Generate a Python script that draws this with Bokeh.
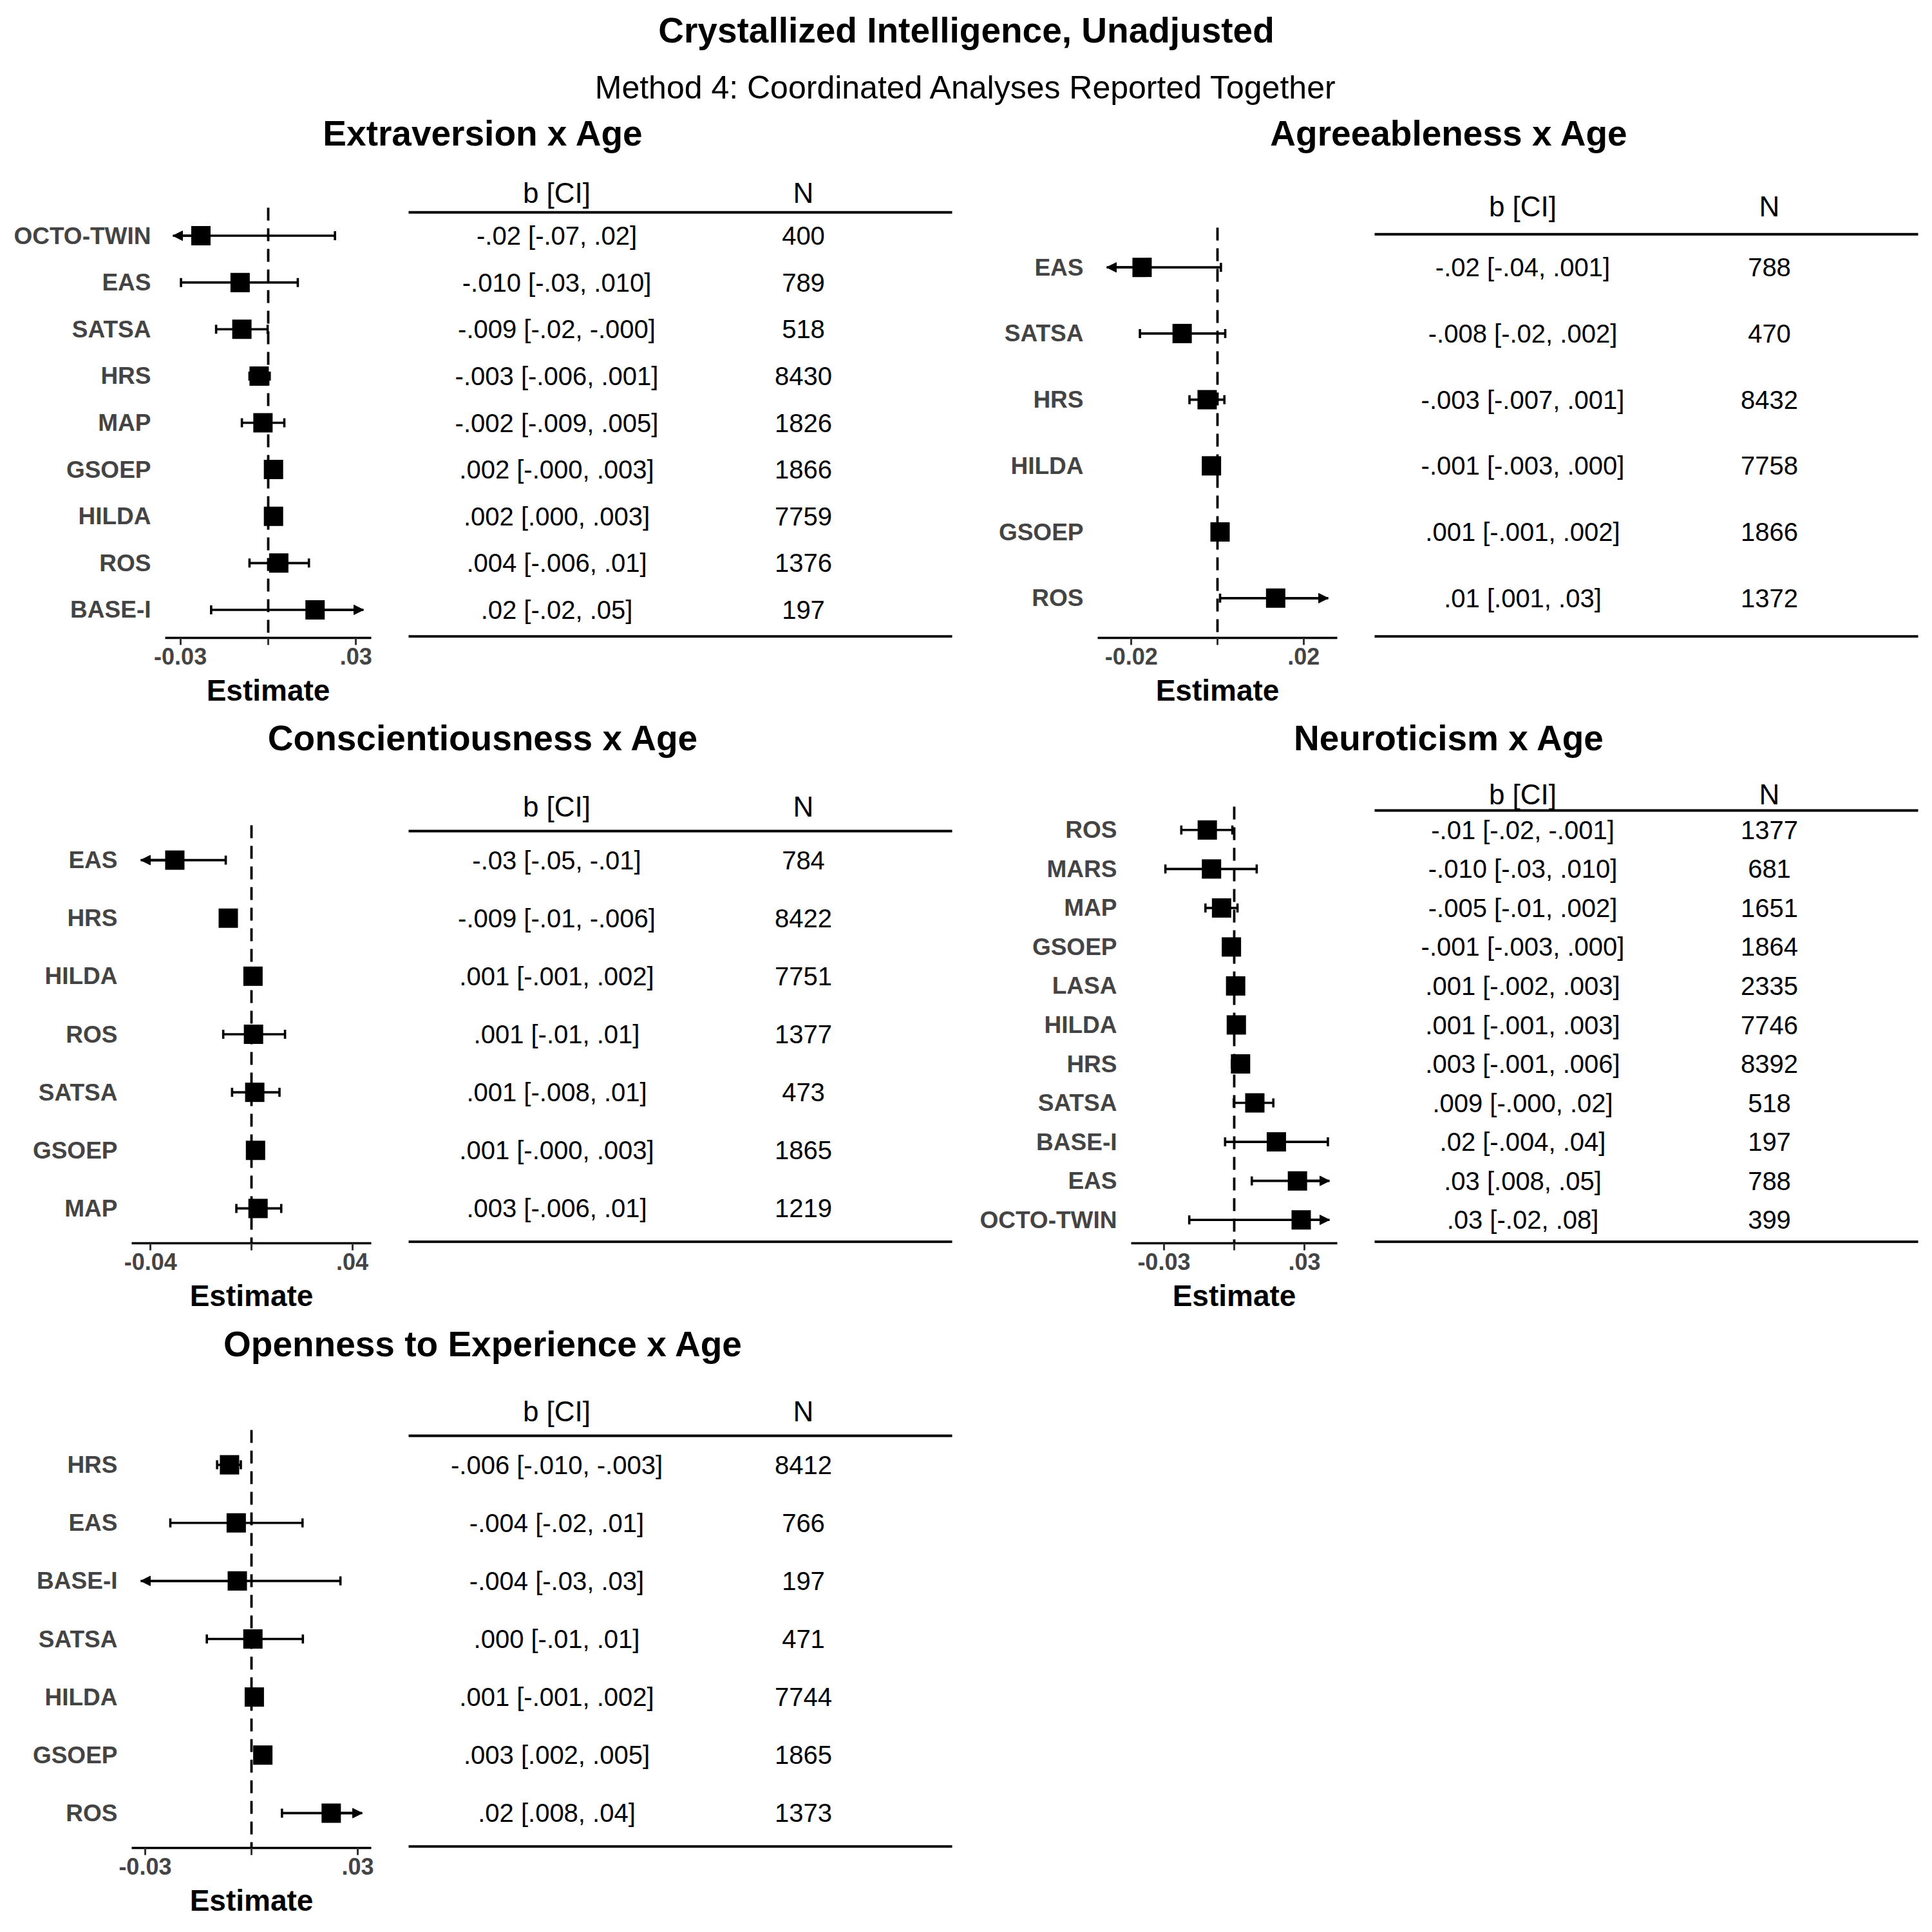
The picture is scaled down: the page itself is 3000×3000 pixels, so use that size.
import numpy as np
from bokeh.plotting import figure
from bokeh.models import Range1d, FixedTicker, Arrow, NormalHead, ColumnDataSource
from bokeh.layouts import column, row
from bokeh.embed import file_html
from bokeh.resources import INLINE
from bokeh.core.properties import value

# ------------------------------------------------------------------ data
MAIN_TITLE = "Crystallized Intelligence, Unadjusted"
SUBTITLE = "Method 4: Coordinated Analyses Reported Together"
TABLE_HEADERS = ["b [CI]", "N"]
AXIS_TITLE = "Estimate"

EXT_TITLE = "Extraversion x Age"
EXT_STUDY = ["OCTO-TWIN", "EAS", "SATSA", "HRS", "MAP", "GSOEP", "HILDA", "ROS", "BASE-I"]
EXT_EST = [-0.023, -0.0096, -0.0090, -0.0031, -0.0018, 0.0018, 0.0018, 0.0036, 0.016]
EXT_LO = [-0.07, -0.0298, -0.0178, -0.0064, -0.0090, -0.0003, 0.0002, -0.0064, -0.0195]
EXT_HI = [0.0228, 0.0101, -0.0002, 0.0005, 0.0055, 0.0033, 0.0033, 0.0139, 0.05]
EXT_BCI = ["-.02 [-.07, .02]", "-.010 [-.03, .010]", "-.009 [-.02, -.000]", "-.003 [-.006, .001]",
           "-.002 [-.009, .005]", ".002 [-.000, .003]", ".002 [.000, .003]", ".004 [-.006, .01]",
           ".02 [-.02, .05]"]
EXT_N = ["400", "789", "518", "8430", "1826", "1866", "7759", "1376", "197"]
EXT_TICKS = [-0.03, 0.0, 0.03]
EXT_TICK_LABELS = ["-0.03", "", ".03"]

AGR_TITLE = "Agreeableness x Age"
AGR_STUDY = ["EAS", "SATSA", "HRS", "HILDA", "GSOEP", "ROS"]
AGR_EST = [-0.0175, -0.0082, -0.0024, -0.0014, 0.0006, 0.0135]
AGR_LO = [-0.04, -0.018, -0.0065, -0.003, -0.001, 0.0006]
AGR_HI = [0.0008, 0.0018, 0.0016, 0.0003, 0.002, 0.03]
AGR_BCI = ["-.02 [-.04, .001]", "-.008 [-.02, .002]", "-.003 [-.007, .001]", "-.001 [-.003, .000]",
           ".001 [-.001, .002]", ".01 [.001, .03]"]
AGR_N = ["788", "470", "8432", "7758", "1866", "1372"]
AGR_TICKS = [-0.02, 0.0, 0.02]
AGR_TICK_LABELS = ["-0.02", "", ".02"]

CON_TITLE = "Conscientiousness x Age"
CON_STUDY = ["EAS", "HRS", "HILDA", "ROS", "SATSA", "GSOEP", "MAP"]
CON_EST = [-0.0304, -0.0092, 0.0006, 0.0008, 0.0013, 0.0016, 0.0026]
CON_LO = [-0.05, -0.0123, -0.0008, -0.0112, -0.0077, -0.0003, -0.006]
CON_HI = [-0.0102, -0.0060, 0.0020, 0.0133, 0.0111, 0.0033, 0.0118]
CON_BCI = ["-.03 [-.05, -.01]", "-.009 [-.01, -.006]", ".001 [-.001, .002]", ".001 [-.01, .01]",
           ".001 [-.008, .01]", ".001 [-.000, .003]", ".003 [-.006, .01]"]
CON_N = ["784", "8422", "7751", "1377", "473", "1865", "1219"]
CON_TICKS = [-0.04, 0.0, 0.04]
CON_TICK_LABELS = ["-0.04", "", ".04"]

NEU_TITLE = "Neuroticism x Age"
NEU_STUDY = ["ROS", "MARS", "MAP", "GSOEP", "LASA", "HILDA", "HRS", "SATSA", "BASE-I", "EAS", "OCTO-TWIN"]
NEU_EST = [-0.0115, -0.0097, -0.0054, -0.0012, 0.0006, 0.0009, 0.0027, 0.0088, 0.018, 0.027, 0.0286]
NEU_LO = [-0.0226, -0.0294, -0.0123, -0.003, -0.002, -0.001, -0.001, -0.0002, -0.0039, 0.0075, -0.0192]
NEU_HI = [-0.0008, 0.0096, 0.0014, 0.0003, 0.003, 0.003, 0.006, 0.0167, 0.04, 0.05, 0.08]
NEU_BCI = ["-.01 [-.02, -.001]", "-.010 [-.03, .010]", "-.005 [-.01, .002]", "-.001 [-.003, .000]",
           ".001 [-.002, .003]", ".001 [-.001, .003]", ".003 [-.001, .006]", ".009 [-.000, .02]",
           ".02 [-.004, .04]", ".03 [.008, .05]", ".03 [-.02, .08]"]
NEU_N = ["1377", "681", "1651", "1864", "2335", "7746", "8392", "518", "197", "788", "399"]
NEU_TICKS = [-0.03, 0.0, 0.03]
NEU_TICK_LABELS = ["-0.03", "", ".03"]

OPE_TITLE = "Openness to Experience x Age"
OPE_STUDY = ["HRS", "EAS", "BASE-I", "SATSA", "HILDA", "GSOEP", "ROS"]
OPE_EST = [-0.0062, -0.0043, -0.004, 0.0004, 0.0008, 0.0032, 0.0225]
OPE_LO = [-0.0097, -0.0229, -0.033, -0.0126, -0.0008, 0.0017, 0.0086]
OPE_HI = [-0.003, 0.0144, 0.0251, 0.0145, 0.0022, 0.0048, 0.04]
OPE_BCI = ["-.006 [-.010, -.003]", "-.004 [-.02, .01]", "-.004 [-.03, .03]", ".000 [-.01, .01]",
           ".001 [-.001, .002]", ".003 [.002, .005]", ".02 [.008, .04]"]
OPE_N = ["8412", "766", "197", "471", "7744", "1865", "1373"]
OPE_TICKS = [-0.03, 0.0, 0.03]
OPE_TICK_LABELS = ["-0.03", "", ".03"]

# ------------------------------------------------------------------ style / layout
FONT = "Liberation Sans"
GREY = "#444444"
FOREST_W = 600
TABLE_W = 900
FOREST_RIGHT = 24
CLIP_RATIO = 0.925
LW = 3.6


def text_fig(width, height):
    f = figure(width=width, height=height, x_range=Range1d(0, width), y_range=Range1d(height, 0),
               output_backend="svg", toolbar_location=None, min_border=0, title=None,
               x_axis_location=None, y_axis_location=None)
    f.outline_line_color = None
    f.grid.visible = False
    return f


def row_range(n, f_top, f_bot, b_top):
    """y range (flipped) so that rows 1..n sit in [f_top, f_bot] with the frame starting at b_top."""
    spacing = (f_bot - f_top) / (n + 0.2)
    top_val = 0.4 - (f_top - b_top) / spacing
    return Range1d(n + 0.6, top_val), spacing


def make_forest(study, est, lo, hi, ticks, tick_labels, half, left, f_top, f_bot, b_top, b_bot):
    n = len(study)
    ypos = list(range(1, n + 1))
    yr, spacing = row_range(n, f_top, f_bot, b_top)
    p = figure(width=FOREST_W, height=b_bot - b_top,
               x_range=Range1d(-half, half), y_range=yr, title=None,
               output_backend="svg", toolbar_location=None,
               min_border_left=left, min_border_right=FOREST_RIGHT,
               min_border_top=0, min_border_bottom=b_bot - f_bot)
    p.outline_line_color = None
    p.grid.visible = False
    clip = half * CLIP_RATIO

    # reference line at zero, spanning the plotting panel only
    p.segment(x0=[0], y0=[0.4], x1=[0], y1=[n + 0.6], line_dash="20 12", line_width=3.8, line_color="black")

    x0 = [max(v, -clip) for v in lo]
    x1 = [min(v, clip) for v in hi]
    p.segment(x0=x0, y0=ypos, x1=x1, y1=ypos, line_width=LW, line_color="black")

    cx, cy = [], []
    for v, y in zip(lo, ypos):
        if v >= -clip:
            cx.append(v); cy.append(y)
    for v, y in zip(hi, ypos):
        if v <= clip:
            cx.append(v); cy.append(y)
    p.scatter(x=cx, y=cy, marker="dash", angle=np.pi / 2, size=14, line_width=LW, line_color="black")

    xs, ys, xe = [], [], []
    for e, l, h, y in zip(est, lo, hi, ypos):
        if l < -clip:
            xs.append(e); ys.append(y); xe.append(-clip)
        if h > clip:
            xs.append(e); ys.append(y); xe.append(clip)
    src = ColumnDataSource(dict(xs=xs, ys=ys, xe=xe, ye=ys))
    p.add_layout(Arrow(end=NormalHead(size=15, fill_color="black", line_color="black", line_width=1),
                       source=src, x_start="xs", y_start="ys", x_end="xe", y_end="ye",
                       line_width=LW, line_color="black"))

    p.scatter(x=est, y=ypos, marker="square", size=30, fill_color="black", line_color=None)

    xa = p.xaxis[0]
    xa.ticker = FixedTicker(ticks=ticks, minor_ticks=[])
    xa.major_label_overrides = {t: s for t, s in zip(ticks, tick_labels)}
    xa.axis_line_width = 3.5
    xa.axis_line_color = "black"
    xa.major_tick_in = 0
    xa.major_tick_out = 11
    xa.major_tick_line_width = 3
    xa.major_tick_line_color = "#333333"
    xa.minor_tick_line_color = None
    xa.major_label_standoff = 4
    xa.major_label_text_font = FONT
    xa.major_label_text_font_style = "bold"
    xa.major_label_text_font_size = "36px"
    xa.major_label_text_color = GREY
    xa.axis_label = AXIS_TITLE
    xa.axis_label_standoff = 11
    xa.axis_label_text_font = FONT
    xa.axis_label_text_font_style = "bold"
    xa.axis_label_text_font_size = "46px"
    xa.axis_label_text_color = "black"

    ya = p.yaxis[0]
    ya.ticker = FixedTicker(ticks=ypos, minor_ticks=[])
    ya.major_label_overrides = {i: s for i, s in zip(ypos, study)}
    ya.axis_line_color = None
    ya.major_tick_line_color = None
    ya.minor_tick_line_color = None
    ya.major_tick_in = 0
    ya.major_tick_out = 0
    ya.major_label_standoff = 22
    ya.major_label_text_font = FONT
    ya.major_label_text_font_style = "bold"
    ya.major_label_text_font_size = "37px"
    ya.major_label_text_color = GREY
    return p


def make_table(bci, nn, f_top, f_bot, b_top, b_bot):
    n = len(bci)
    ypos = list(range(1, n + 1))
    yr, spacing = row_range(n, f_top, f_bot, b_top)
    t = figure(width=TABLE_W, height=b_bot - b_top, x_range=Range1d(600, 1500), y_range=yr,
               output_backend="svg", toolbar_location=None, title=None,
               min_border_left=0, min_border_right=0, min_border_top=0,
               min_border_bottom=b_bot - f_bot, x_axis_location=None, y_axis_location=None)
    t.outline_line_color = None
    t.grid.visible = False
    bottom_line = n + 0.6 - 2.2 / spacing
    t.segment(x0=[634, 634], y0=[0.5, bottom_line], x1=[1478, 1478], y1=[0.5, bottom_line],
              line_width=4, line_color="black")
    t.text(x=[864, 1247], y=[0.08, 0.08], text=TABLE_HEADERS, text_align="center",
           text_baseline="middle", text_font=value(FONT), text_font_size="44px", text_color="black")
    t.text(x=[864] * n, y=ypos, text=bci, text_align="center", text_baseline="middle",
           text_font=value(FONT), text_font_size="40px", text_color="black")
    t.text(x=[1247] * n, y=ypos, text=nn, text_align="center", text_baseline="middle",
           text_font=value(FONT), text_font_size="40px", text_color="black")
    return t


def title_texts(f, titles, xs, y):
    f.text(x=xs, y=[y] * len(titles), text=titles, text_align="center", text_baseline="middle",
           text_font=value(FONT), text_font_style="bold", text_font_size="55px", text_color="black")


# header band (0-240)
head = text_fig(3000, 240)
head.text(x=[1500], y=[46], text=[MAIN_TITLE], text_align="center", text_baseline="middle",
          text_font=value(FONT), text_font_style="bold", text_font_size="55px", text_color="black")
head.text(x=[1500], y=[135], text=[SUBTITLE], text_align="center", text_baseline="middle",
          text_font=value(FONT), text_font_size="50px", text_color="black")
title_texts(head, [EXT_TITLE, AGR_TITLE], [750, 2250], 206)

# band 1 (240-1110)
B1T, B1B = 240, 1110
f1 = make_forest(EXT_STUDY, EXT_EST, EXT_LO, EXT_HI, EXT_TICKS, EXT_TICK_LABELS, 0.0352, 256, 322, 990, B1T, B1B)
t1 = make_table(EXT_BCI, EXT_N, 322, 990, B1T, B1B)
f2 = make_forest(AGR_STUDY, AGR_EST, AGR_LO, AGR_HI, AGR_TICKS, AGR_TICK_LABELS, 0.0278, 204, 353, 990, B1T, B1B)
t2 = make_table(AGR_BCI, AGR_N, 353, 990, B1T, B1B)

# title band 2 (1110-1180)
tb2 = text_fig(3000, 70)
title_texts(tb2, [CON_TITLE, NEU_TITLE], [750, 2250], 35)

# band 2 (1180-2050)
B2T, B2B = 1180, 2050
f3 = make_forest(CON_STUDY, CON_EST, CON_LO, CON_HI, CON_TICKS, CON_TICK_LABELS, 0.0475, 204, 1281, 1930, B2T, B2B)
t3 = make_table(CON_BCI, CON_N, 1281, 1930, B2T, B2B)
f4 = make_forest(NEU_STUDY, NEU_EST, NEU_LO, NEU_HI, NEU_TICKS, NEU_TICK_LABELS, 0.044, 256, 1252, 1930, B2T, B2B)
t4 = make_table(NEU_BCI, NEU_N, 1252, 1930, B2T, B2B)

# title band 3 (2050-2120)
tb3 = text_fig(3000, 70)
title_texts(tb3, [OPE_TITLE], [750], 36)

# band 3 (2120-3000)
B3T, B3B = 2120, 3000
f5 = make_forest(OPE_STUDY, OPE_EST, OPE_LO, OPE_HI, OPE_TICKS, OPE_TICK_LABELS, 0.0338, 204, 2220, 2869, B3T, B3B)
t5 = make_table(OPE_BCI, OPE_N, 2220, 2869, B3T, B3B)

layout = column(head, row(f1, t1, f2, t2), tb2, row(f3, t3, f4, t4), tb3, row(f5, t5))

open("out.html", "w").write(file_html(layout, INLINE))
